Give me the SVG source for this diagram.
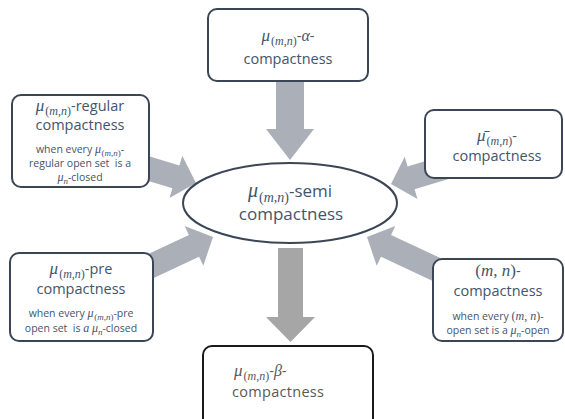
<svg xmlns="http://www.w3.org/2000/svg" width="565" height="419" viewBox="0 0 565 419">
<style>
.box{fill:#fff;stroke:#3a4656;stroke-width:2}
.boxk{fill:#fff;stroke:#1a1a1a;stroke-width:2}
.arr{fill:#abb0b8}
.arr2{fill:#a6a6a6}
.t{font-family:"Open Sans","Liberation Sans",sans-serif;fill:#44546a;text-anchor:middle}
.tk{font-family:"Open Sans","Liberation Sans",sans-serif;fill:#595959}
.h{font-size:14.5px}
.e{font-size:17px}
.sm{font-size:10.5px}
.m{font-family:"Liberation Serif","DejaVu Serif",serif;font-style:italic}
.r{font-family:"Liberation Serif","DejaVu Serif",serif}
.s12{font-size:12px}
.s9{font-size:9px}
.s14{font-size:14px}
</style>
<rect width="565" height="419" fill="#fff"/>
<g id="connectors">
<polygon class="arr" points="276,78 304,78 304,129 314,129 290,160 266,129 276,129"/>
<polygon class="arr" points="87.3,162.4 172.4,188.3 169.5,197.9 196,183 182.3,155.8 179.4,165.4 94.3,139.4"/>
<polygon class="arr" points="109.4,298.7 199.1,256.8 203.3,265.8 213,237 184.7,226 188.9,235 99.2,276.9"/>
<polygon class="arr" points="492.7,140.4 407.6,166.4 404.7,156.8 391,184 417.5,198.9 414.6,189.3 499.7,163.4"/>
<polygon class="arr" points="480.8,276.9 391.1,235 395.3,226 367,237 376.7,265.8 381,256.8 470.6,298.7"/>
<polygon class="arr2" points="278,248 303,248 303,317 315,317 290.5,342 266,317 278,317"/>
</g>
<g id="n-alpha">
<rect class="box" x="208" y="9" width="160" height="72" rx="9"/>
<text class="t h" x="288" y="41"><tspan class="m" font-size="17">μ</tspan><tspan class="r s12" dy="4" dx="1">(</tspan><tspan class="m s12">m</tspan><tspan class="r s12">,</tspan><tspan class="m s12">n</tspan><tspan class="r s12">)</tspan><tspan dy="-4">-</tspan><tspan class="m" font-size="16">α</tspan><tspan>-</tspan></text>
<text class="t h" x="288" y="64">compactness</text>
</g>
<g id="n-regular">
<rect class="box" x="12" y="95" width="137" height="92" rx="9"/>
<text class="t h" x="80" y="111"><tspan class="m" font-size="17">μ</tspan><tspan class="r s12" dy="4" dx="1">(</tspan><tspan class="m s12">m</tspan><tspan class="r s12">,</tspan><tspan class="m s12">n</tspan><tspan class="r s12">)</tspan><tspan dy="-4">-regular</tspan></text>
<text class="t h" x="80" y="130">compactness</text>
<text class="t sm" x="80" y="153"><tspan>when every </tspan><tspan class="m s12">μ</tspan><tspan class="r s9" dy="3" dx="0.5">(</tspan><tspan class="m s9">m</tspan><tspan class="r s9">,</tspan><tspan class="m s9">n</tspan><tspan class="r s9">)</tspan><tspan dy="-3">-</tspan></text>
<text class="t sm" x="80" y="167" xml:space="preserve">regular open set  is a</text>
<text class="t sm" x="80" y="181"><tspan class="m s12">μ</tspan><tspan class="m s9" dy="3">n</tspan><tspan dy="-3">-closed</tspan></text>
</g>
<g id="n-bar">
<rect class="box" x="425" y="110" width="137" height="68" rx="9"/>
<text class="t h" x="497" y="141"><tspan class="m" font-size="17">μ̄</tspan><tspan class="r s12" dy="4" dx="1">(</tspan><tspan class="m s12">m</tspan><tspan class="r s12">,</tspan><tspan class="m s12">n</tspan><tspan class="r s12">)</tspan><tspan dy="-4">-</tspan></text>
<text class="t h" x="497" y="161">compactness</text>
</g>
<g id="n-semi">
<ellipse cx="290" cy="203" rx="107" ry="40" fill="#fff" stroke="#3a4656" stroke-width="2"/>
<text class="t e" x="290" y="197"><tspan class="m" font-size="20">μ</tspan><tspan class="r s14" dy="4.5" dx="1">(</tspan><tspan class="m s14">m</tspan><tspan class="r s14">,</tspan><tspan class="m s14">n</tspan><tspan class="r s14">)</tspan><tspan dy="-4.5">-semi</tspan></text>
<text class="t e" x="291" y="220">compactness</text>
</g>
<g id="n-pre">
<rect class="box" x="10" y="253" width="143" height="88" rx="9"/>
<text class="t h" x="81" y="274"><tspan class="m" font-size="17">μ</tspan><tspan class="r s12" dy="4" dx="1">(</tspan><tspan class="m s12">m</tspan><tspan class="r s12">,</tspan><tspan class="m s12">n</tspan><tspan class="r s12">)</tspan><tspan dy="-4">-pre</tspan></text>
<text class="t h" x="81" y="294">compactness</text>
<text class="t sm" x="81" y="317"><tspan>when every </tspan><tspan class="m s12">μ</tspan><tspan class="r s9" dy="3" dx="0.5">(</tspan><tspan class="m s9">m</tspan><tspan class="r s9">,</tspan><tspan class="m s9">n</tspan><tspan class="r s9">)</tspan><tspan dy="-3">-pre</tspan></text>
<text class="t sm" x="81" y="332" xml:space="preserve"><tspan>open set  is </tspan><tspan class="m s12">a</tspan><tspan> </tspan><tspan class="m s12">μ</tspan><tspan class="m s9" dy="3">n</tspan><tspan dy="-3">-closed</tspan></text>
</g>
<g id="n-mn">
<rect class="box" x="433" y="259" width="130" height="82" rx="9"/>
<text class="t h" x="498" y="276"><tspan class="r" font-size="17">(</tspan><tspan class="m" font-size="17">m</tspan><tspan class="r" font-size="17">, </tspan><tspan class="m" font-size="17">n</tspan><tspan class="r" font-size="17">)</tspan><tspan>-</tspan></text>
<text class="t h" x="498" y="296">compactness</text>
<text class="t sm" x="498" y="320"><tspan>when every </tspan><tspan class="r s12">(</tspan><tspan class="m s12">m</tspan><tspan class="r s12">, </tspan><tspan class="m s12">n</tspan><tspan class="r s12">)</tspan><tspan>-</tspan></text>
<text class="t sm" x="498" y="334"><tspan>open set is a </tspan><tspan class="m s12">μ</tspan><tspan class="m s9" dy="3">n</tspan><tspan dy="-3">-open</tspan></text>
</g>
<g id="n-beta">
<rect class="boxk" x="203" y="346" width="170" height="85" rx="9"/>
<text class="tk h" x="234" y="376"><tspan class="m" font-size="17">μ</tspan><tspan class="r s12" dy="4" dx="1">(</tspan><tspan class="m s12">m</tspan><tspan class="r s12">,</tspan><tspan class="m s12">n</tspan><tspan class="r s12">)</tspan><tspan dy="-4">-</tspan><tspan class="m" font-size="16">β</tspan><tspan>-</tspan></text>
<text class="tk h" x="232" y="397" letter-spacing="0.3">compactness</text>
</g>
</svg>
